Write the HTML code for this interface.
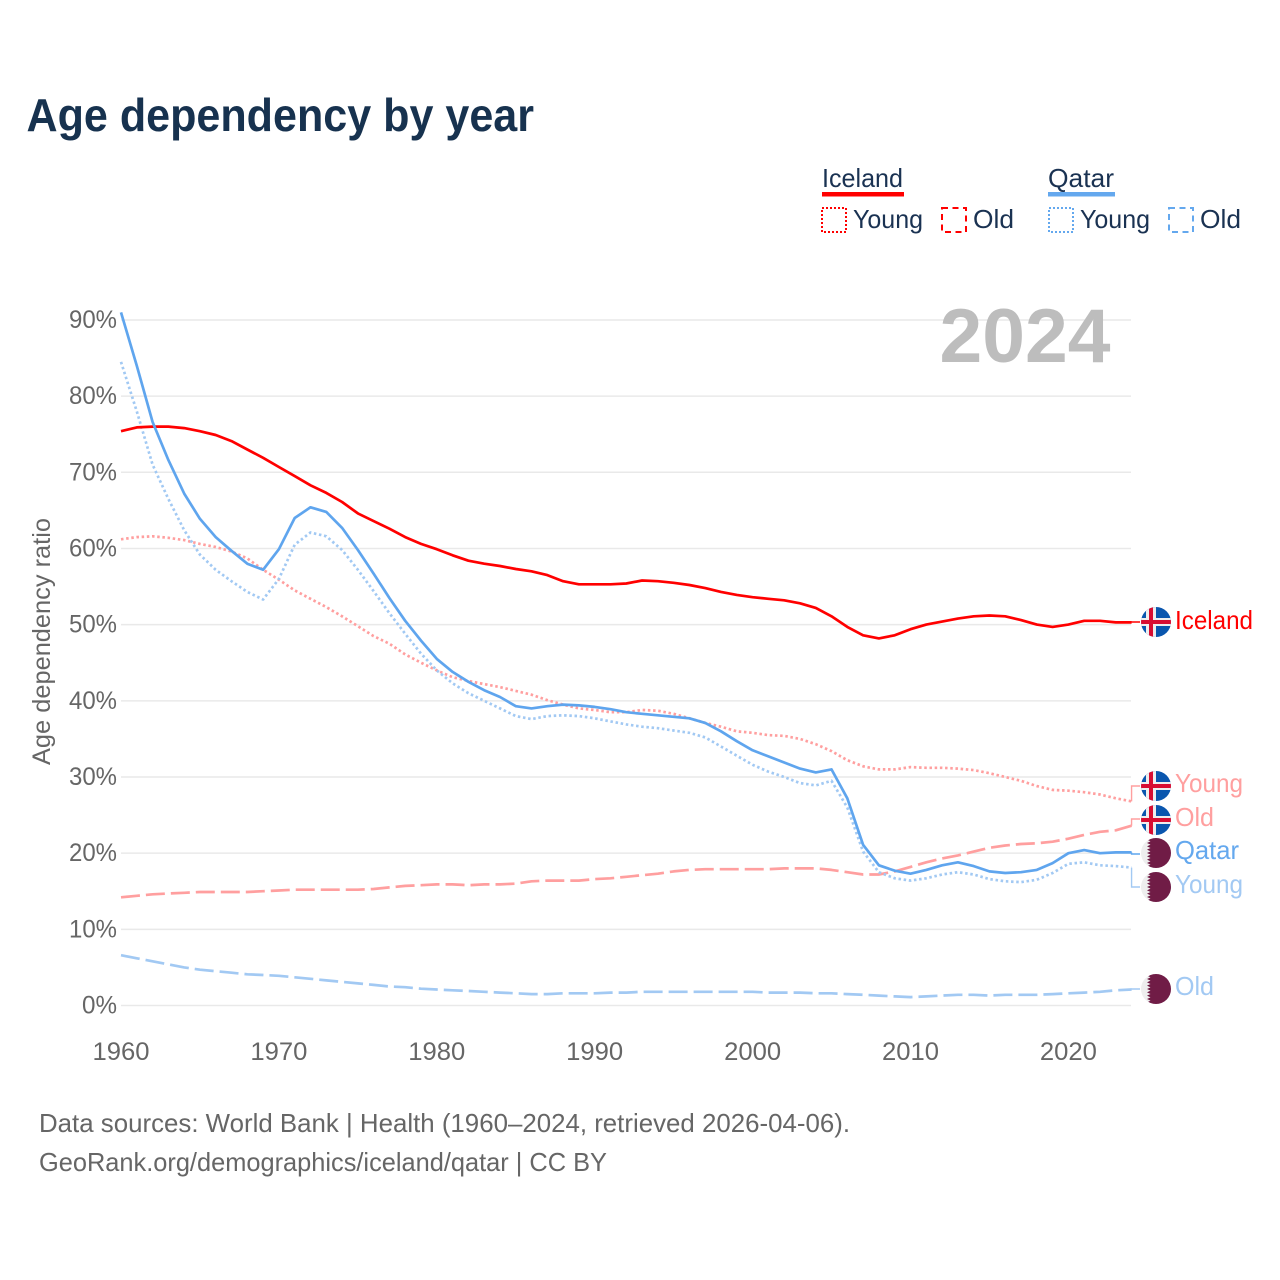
<!DOCTYPE html>
<html lang="en">
<head>
<meta charset="utf-8">
<title>Age dependency by year</title>
<style>
html,body{margin:0;padding:0;background:#fff;width:1280px;height:1280px;overflow:hidden}
svg{display:block;font-family:"Liberation Sans",sans-serif}
</style>
</head>
<body>
<svg id="chart" width="1280" height="1280" viewBox="0 0 1280 1280" xmlns="http://www.w3.org/2000/svg">
<defs>
<clipPath id="flag-clip"><circle cx="0" cy="0" r="15"/></clipPath>
</defs>
<rect width="1280" height="1280" fill="#fff"/>
<text x="26.5" y="131" font-size="46" font-weight="700" fill="#17324f" textLength="507.5" lengthAdjust="spacingAndGlyphs">Age dependency by year</text>

<g id="legend">
<text x="822" y="187" font-size="26" fill="#1a3252" textLength="81" lengthAdjust="spacingAndGlyphs">Iceland</text>
<rect x="822" y="192" width="82" height="4.5" fill="#ff0000"/>
<text x="1048" y="187" font-size="26" fill="#1a3252" textLength="66" lengthAdjust="spacingAndGlyphs">Qatar</text>
<rect x="1048" y="192" width="67" height="4.5" fill="#64a8ee"/>
<rect x="822" y="208" width="24" height="24" fill="none" stroke="#ff0000" stroke-width="2" stroke-dasharray="2 2"/>
<text x="853" y="228" font-size="26" fill="#1a3252" textLength="70" lengthAdjust="spacingAndGlyphs">Young</text>
<rect x="942" y="208" width="24" height="24" fill="none" stroke="#ff0000" stroke-width="2" stroke-dasharray="6 4.5"/>
<text x="973" y="228" font-size="26" fill="#1a3252" textLength="41" lengthAdjust="spacingAndGlyphs">Old</text>
<rect x="1049" y="208" width="24" height="24" fill="none" stroke="#64a8ee" stroke-width="2" stroke-dasharray="2 2"/>
<text x="1080" y="228" font-size="26" fill="#1a3252" textLength="70" lengthAdjust="spacingAndGlyphs">Young</text>
<rect x="1169" y="208" width="24" height="24" fill="none" stroke="#64a8ee" stroke-width="2" stroke-dasharray="6 4.5"/>
<text x="1200" y="228" font-size="26" fill="#1a3252" textLength="41" lengthAdjust="spacingAndGlyphs">Old</text>
</g>

<g id="grid"></g>
<g id="y-ticks"></g>
<g id="x-ticks"></g>
<text x="1025" y="362" font-size="76" font-weight="700" fill="#bdbdbd" text-anchor="middle" textLength="171" lengthAdjust="spacingAndGlyphs">2024</text>
<text transform="translate(50,641.5) rotate(-90)" font-size="25" fill="#666" text-anchor="middle" textLength="247" lengthAdjust="spacingAndGlyphs">Age dependency ratio</text>

<g id="series"></g>
<g id="end-labels"></g>

<text x="39" y="1132" font-size="26" fill="#666" textLength="811" lengthAdjust="spacingAndGlyphs">Data sources: World Bank | Health (1960–2024, retrieved 2026-04-06).</text>
<text x="39" y="1171" font-size="26" fill="#666" textLength="568" lengthAdjust="spacingAndGlyphs">GeoRank.org/demographics/iceland/qatar | CC BY</text>
</svg>

<script>
const startYear = 1960;
const yTickValues = [0, 10, 20, 30, 40, 50, 60, 70, 80, 90];
const xTickValues = [1960, 1970, 1980, 1990, 2000, 2010, 2020];

const icelandTotal = [75.4,75.9,76.0,76.0,75.8,75.4,74.9,74.1,73.0,71.9,70.7,69.5,68.3,67.3,66.1,64.6,63.6,62.6,61.5,60.6,59.9,59.1,58.4,58.0,57.7,57.3,57.0,56.5,55.7,55.3,55.3,55.3,55.4,55.8,55.7,55.5,55.2,54.8,54.3,53.9,53.6,53.4,53.2,52.8,52.2,51.1,49.7,48.6,48.2,48.6,49.4,50.0,50.4,50.8,51.1,51.2,51.1,50.6,50.0,49.7,50.0,50.5,50.5,50.3,50.3];
const icelandYoung = [61.2,61.5,61.6,61.4,61.1,60.6,60.2,59.6,58.7,57.2,55.9,54.5,53.4,52.3,51.1,49.8,48.5,47.5,46.1,45.0,44.0,43.1,42.6,42.2,41.8,41.3,40.8,40.1,39.5,39.0,38.8,38.5,38.5,38.8,38.7,38.3,37.7,37.1,36.6,36.0,35.8,35.5,35.4,35.0,34.3,33.4,32.2,31.4,31.0,31.0,31.3,31.2,31.2,31.1,30.9,30.5,30.0,29.5,28.8,28.3,28.2,28.0,27.7,27.2,26.8];
const icelandOld = [14.2,14.4,14.6,14.7,14.8,14.9,14.9,14.9,14.9,15.0,15.1,15.2,15.2,15.2,15.2,15.2,15.3,15.5,15.7,15.8,15.9,15.9,15.8,15.9,15.9,16.0,16.3,16.4,16.4,16.4,16.6,16.7,16.9,17.1,17.3,17.6,17.8,17.9,17.9,17.9,17.9,17.9,18.0,18.0,18.0,17.8,17.5,17.2,17.2,17.6,18.2,18.8,19.3,19.7,20.2,20.7,21.0,21.2,21.3,21.5,21.9,22.4,22.8,23.0,23.6];
const qatarTotal = [91.0,84.0,76.6,71.6,67.2,63.9,61.5,59.7,58.0,57.2,59.9,64.0,65.4,64.8,62.7,59.8,56.7,53.5,50.5,47.9,45.5,43.8,42.5,41.4,40.5,39.3,39.0,39.3,39.5,39.4,39.2,38.9,38.5,38.3,38.1,37.9,37.7,37.1,36.0,34.7,33.5,32.7,31.9,31.1,30.6,31.0,27.2,21.1,18.4,17.7,17.3,17.8,18.4,18.8,18.3,17.6,17.4,17.5,17.8,18.7,20.0,20.4,20.0,20.1,20.1];
const qatarYoung = [84.5,78.0,71.0,66.5,62.4,59.2,57.2,55.7,54.3,53.3,56.0,60.5,62.1,61.6,59.8,57.2,54.4,51.5,48.8,46.2,44.0,42.3,41.0,40.0,39.0,38.0,37.6,38.0,38.1,38.0,37.7,37.3,36.9,36.6,36.4,36.1,35.8,35.2,34.0,32.8,31.6,30.7,30.0,29.2,28.9,29.5,26.0,20.2,17.5,16.7,16.4,16.7,17.2,17.5,17.2,16.6,16.3,16.2,16.5,17.4,18.6,18.8,18.4,18.3,18.1];
const qatarOld = [6.6,6.2,5.8,5.4,5.0,4.7,4.5,4.3,4.1,4.0,3.9,3.7,3.5,3.3,3.1,2.9,2.7,2.5,2.4,2.2,2.1,2.0,1.9,1.8,1.7,1.6,1.5,1.5,1.6,1.6,1.6,1.7,1.7,1.8,1.8,1.8,1.8,1.8,1.8,1.8,1.8,1.7,1.7,1.7,1.6,1.6,1.5,1.4,1.3,1.2,1.1,1.2,1.3,1.4,1.4,1.3,1.4,1.4,1.4,1.5,1.6,1.7,1.8,2.0,2.1];

const NS = 'http://www.w3.org/2000/svg';
function xScale(year) { return 121 + (year - 1960) * 15.79; }
function yScale(pct) { return 1005.5 - pct * 7.617; }
function make(tag, parent, props) {
  const el = document.createElementNS(NS, tag);
  for (const key in props) el.setAttribute(key, props[key]);
  parent.appendChild(el);
  return el;
}

const gridG = document.getElementById('grid');
const yG = document.getElementById('y-ticks');
yTickValues.forEach(function (v) {
  const line = make('line', gridG, {x1: 121, x2: 1131, y1: yScale(v), y2: yScale(v), stroke: '#e9e9e9', 'stroke-width': 1.5});
  
  
  const label = make('text', yG, {x: 117, y: yScale(v) + 8, 'font-size': 25, fill: '#666', 'text-anchor': 'end', textLength: v === 0 ? 35 : 48, lengthAdjust: 'spacingAndGlyphs'});
  label.textContent = v + '%';
  
  
});

const xG = document.getElementById('x-ticks');
xTickValues.forEach(function (y) {
  const label = make('text', xG, {x: xScale(y), y: 1060, 'font-size': 25, fill: '#666', 'text-anchor': 'middle', textLength: 57, lengthAdjust: 'spacingAndGlyphs'});
  label.textContent = y;
  
  
});

const seriesG = document.getElementById('series');
function drawSeries(values, name, color, dash, labelY) {
  const pts = values.map(function (v, i) { return xScale(startYear + i).toFixed(1) + ',' + yScale(v).toFixed(1); });
  const props = {points: pts.join(' '), fill: 'none', stroke: color, 'stroke-width': 2.7, 'stroke-linejoin': 'round'};
  if (dash) props['stroke-dasharray'] = dash;
  const line = make('polyline', seriesG, props);
  
  
  const endX = xScale(startYear + values.length - 1);
  const endY = yScale(values[values.length - 1]);
  const conn = make('polyline', seriesG, {points: endX + ',' + endY + ' ' + endX + ',' + labelY + ' 1140,' + labelY, fill: 'none', stroke: color, 'stroke-width': 1.4});
  
  
}
drawSeries(qatarOld, 'qatar-old', '#a2c9f3', '19 6', 989);
drawSeries(icelandOld, 'iceland-old', '#ff9f9f', '19 6', 819);
drawSeries(icelandYoung, 'iceland-young', '#ff9f9f', '2.5 2.7', 786);
drawSeries(qatarYoung, 'qatar-young', '#a2c9f3', '2.5 2.7', 887);
drawSeries(icelandTotal, 'iceland-total', '#ff0000', null, 622);
drawSeries(qatarTotal, 'qatar-total', '#5fa5ee', null, 854);

const labelsG = document.getElementById('end-labels');
function drawIcelandFlag(cy, name) {
  const g = make('g', labelsG, {transform: 'translate(1156,' + cy + ')', 'clip-path': 'url(#flag-clip)'});
  
  
  make('rect', g, {x: -15, y: -15, width: 30, height: 30, fill: '#0a56ae'});
  make('rect', g, {x: -15, y: -4, width: 30, height: 8, fill: '#eeeeee'});
  make('rect', g, {x: -10, y: -15, width: 10, height: 30, fill: '#eeeeee'});
  make('rect', g, {x: -15, y: -2, width: 30, height: 4, fill: '#d80d32'});
  make('rect', g, {x: -7, y: -15, width: 4, height: 30, fill: '#d80d32'});
}
function drawQatarFlag(cy, name) {
  const g = make('g', labelsG, {transform: 'translate(1156,' + cy + ')', 'clip-path': 'url(#flag-clip)'});
  
  
  make('rect', g, {x: -15, y: -15, width: 30, height: 30, fill: '#eeeeee'});
  let zig = '15,-15 -5.5,-15';
  for (let i = 0; i < 9; i++) {
    const top = -15 + i * 30 / 9;
    zig += ' -9,' + (top + 15 / 9).toFixed(2) + ' -5.5,' + (top + 30 / 9).toFixed(2);
  }
  zig += ' 15,15';
  make('polygon', g, {points: zig, fill: '#701c46'});
}
drawIcelandFlag(622, 'flag-iceland-total');
drawIcelandFlag(786, 'flag-iceland-young');
drawIcelandFlag(820, 'flag-iceland-old');
drawQatarFlag(853, 'flag-qatar-total');
drawQatarFlag(887, 'flag-qatar-young');
drawQatarFlag(989, 'flag-qatar-old');

function drawLabel(text, y, color, width, name) {
  const t = make('text', labelsG, {x: 1175, y: y, 'font-size': 26, fill: color, textLength: width, lengthAdjust: 'spacingAndGlyphs'});
  t.textContent = text;
  
  
}
drawLabel('Iceland', 629, '#ff0000', 78, 'label-iceland-total');
drawLabel('Young', 792, '#ff9f9f', 68, 'label-iceland-young');
drawLabel('Old', 826, '#ff9f9f', 39, 'label-iceland-old');
drawLabel('Qatar', 859, '#64a8ee', 64, 'label-qatar-total');
drawLabel('Young', 893, '#a2c9f3', 68, 'label-qatar-young');
drawLabel('Old', 995, '#a2c9f3', 39, 'label-qatar-old');
</script>
</body>
</html>
